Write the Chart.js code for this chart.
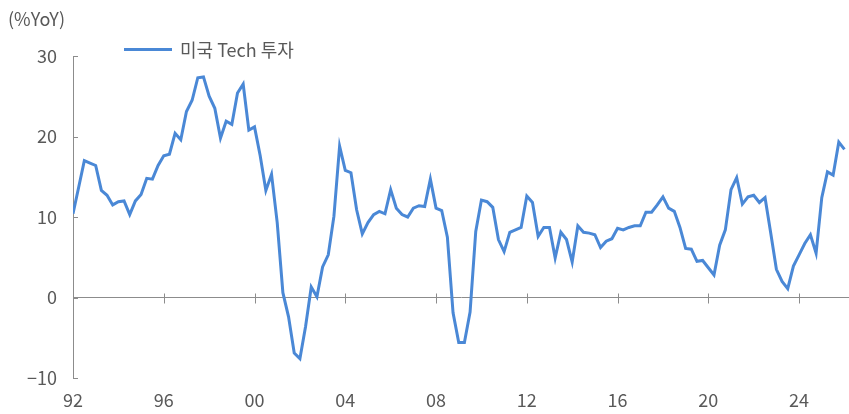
<!DOCTYPE html>
<html>
<head>
<meta charset="utf-8">
<script src="https://cdn.jsdelivr.net/npm/chart.js@4/dist/chart.umd.min.js"></script>
<style>
  body { margin: 0; background: #fff; }
  #wrap { position: relative; width: 849px; height: 414px; font-family: "Noto Sans CJK KR", "Noto Sans", sans-serif; color: #595959; }
  #unit { position: absolute; left: 8px; top: 5px; font-size: 18px; }
  #legend { position: absolute; left: 124px; top: 36px; font-size: 18px; display: flex; align-items: center; }
  #legend .swatch { width: 48px; height: 3px; background: #4a88d6; margin-right: 8px; }
</style>
</head>
<body>
<div id="wrap">
  <canvas id="chart" width="849" height="414"></canvas>
  <div id="unit">(%YoY)</div>
  <div id="legend"><span class="swatch"></span><span>미국 Tech 투자</span></div>
</div>
<script>
// quarterly, 1992 Q1 onward
const startYear = 1992;
const techInvest = [
  10.4, 13.7, 17.0, 16.7, 16.4, 13.3, 12.7, 11.5, 11.9, 12.0, 10.3, 12.0,
  12.8, 14.8, 14.7, 16.4, 17.6, 17.8, 20.4, 19.6, 23.1, 24.5, 27.3, 27.4,
  25.0, 23.5, 19.8, 21.9, 21.5, 25.4, 26.5, 20.8, 21.2, 17.6, 13.3, 15.3,
  9.3, 0.6, -2.4, -6.9, -7.6, -3.6, 1.3, 0.1, 3.8, 5.3, 10.1, 18.8,
  15.8, 15.5, 10.9, 7.9, 9.3, 10.3, 10.7, 10.4, 13.4, 11.1, 10.3, 10.0,
  11.1, 11.4, 11.3, 14.7, 11.1, 10.8, 7.5, -1.9, -5.6, -5.6, -1.8, 8.2,
  12.1, 11.9, 11.2, 7.2, 5.7, 8.1, 8.4, 8.7, 12.6, 11.8, 7.6, 8.7,
  8.7, 4.9, 8.1, 7.2, 4.4, 8.9, 8.1, 8.0, 7.8, 6.2, 7.0, 7.3,
  8.6, 8.4, 8.7, 8.9, 8.9, 10.6, 10.6, 11.5, 12.5, 11.1, 10.7, 8.7,
  6.1, 6.0, 4.5, 4.6, 3.7, 2.8, 6.5, 8.4, 13.4, 14.9, 11.6, 12.5,
  12.7, 11.8, 12.4, 8.0, 3.5, 2.0, 1.1, 3.9, 5.3, 6.7, 7.8, 5.5,
  12.4, 15.6, 15.2, 19.3, 18.4
];
const tickYears = [1992, 1996, 2000, 2004, 2008, 2012, 2016, 2020, 2024];
const tickLabels = ['92', '96', '00', '04', '08', '12', '16', '20', '24'];
const yTicks = [-10, 0, 10, 20, 30];

const axisGray = '#8c8c8c';
const textGray = '#595959';

// small tick marks: inside on the y axis, crossing the zero line on x
const tickMarks = {
  id: 'tickMarks',
  afterDraw(chart) {
    const ctx = chart.ctx;
    const x = chart.scales.x, y = chart.scales.y;
    const zero = y.getPixelForValue(0);
    ctx.save();
    ctx.strokeStyle = axisGray;
    ctx.lineWidth = 1;
    ctx.beginPath();
    yTicks.forEach(v => {
      const py = Math.round(y.getPixelForValue(v)) + 0.5;
      ctx.moveTo(x.left, py);
      ctx.lineTo(x.left + 5, py);
    });
    tickYears.forEach(v => {
      const px = Math.round(x.getPixelForValue(v)) + 0.5;
      ctx.moveTo(px, zero - 4);
      ctx.lineTo(px, zero + 6);
    });
    ctx.stroke();
    ctx.restore();
  }
};

new Chart(document.getElementById('chart'), {
  type: 'line',
  data: {
    datasets: [{
      label: '미국 Tech 투자',
      data: techInvest.map((v, i) => ({ x: startYear + i / 4, y: v })),
      borderColor: '#4a88d6',
      borderWidth: 3,
      pointRadius: 0,
      tension: 0,
      fill: false
    }]
  },
  options: {
    responsive: false,
    animation: false,
    layout: { padding: { top: 56, right: 0, left: 0, bottom: 0 } },
    plugins: { legend: { display: false }, tooltip: { enabled: false } },
    scales: {
      x: {
        type: 'linear',
        min: 1992,
        max: 2026.2,
        afterBuildTicks: axis => { axis.ticks = tickYears.map(v => ({ value: v })); },
        afterFit: s => { s.height = 36; },
        grid: { display: false },
        border: { display: false },
        ticks: {
          padding: 3,
          color: textGray,
          font: { family: '"Noto Sans CJK KR", "Noto Sans", sans-serif', size: 18 },
          maxRotation: 0,
          autoSkip: false,
          callback: v => tickLabels[tickYears.indexOf(v)]
        }
      },
      y: {
        min: -10,
        max: 30,
        afterFit: s => { s.width = 73; },
        grid: {
          drawTicks: false,
          color: c => (c.tick && c.tick.value === 0 ? axisGray : 'rgba(0,0,0,0)')
        },
        border: { color: axisGray },
        ticks: {
          stepSize: 10,
          padding: 16,
          color: textGray,
          font: { family: '"Noto Sans CJK KR", "Noto Sans", sans-serif', size: 18 },
          callback: v => (v < 0 ? '\u2212' + Math.abs(v) : String(v))
        }
      }
    }
  },
  plugins: [tickMarks]
});
</script>
</body>
</html>
